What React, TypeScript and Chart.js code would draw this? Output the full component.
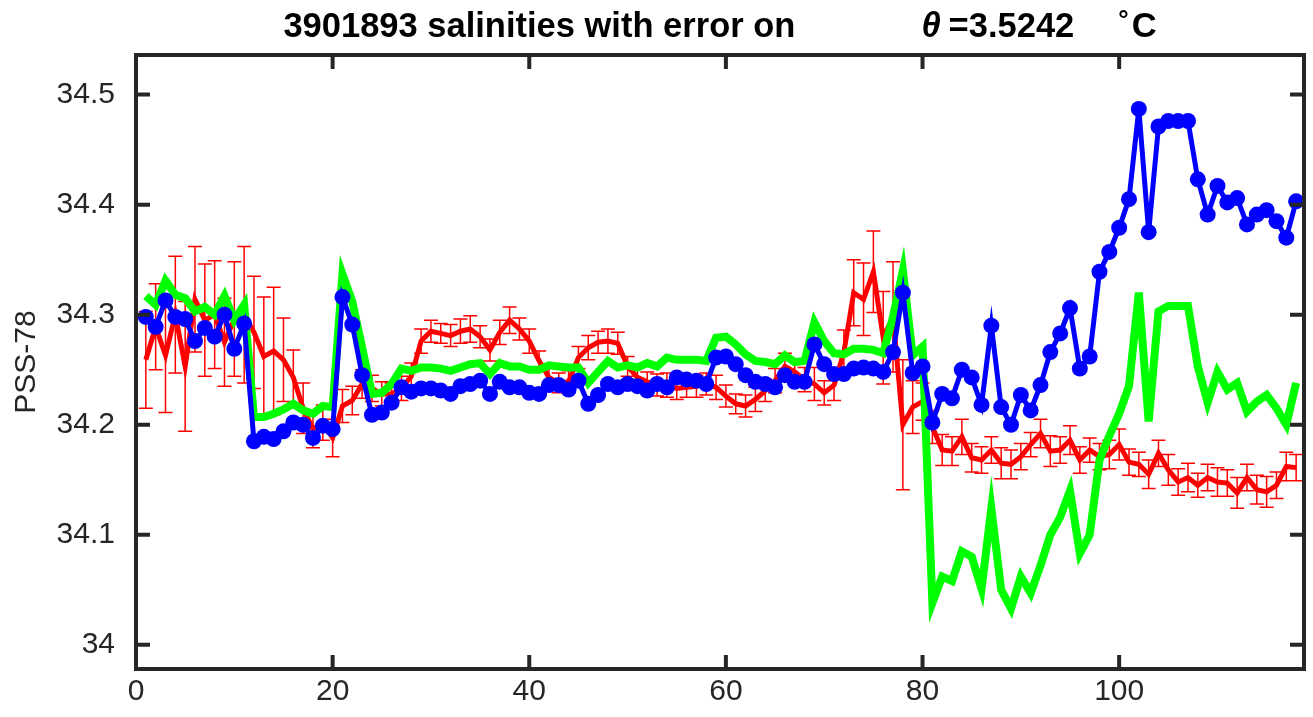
import React, { useEffect, useRef } from 'react';
import { Chart, registerables } from 'chart.js';

Chart.register(...registerables);

// Profile numbers 1..118 (category axis)
const PROFILES: number[] = Array.from({ length: 118 }, (_, i) => i + 1);

const SAL_BLUE = [
  34.298, 34.289, 34.313, 34.298, 34.296, 34.276, 34.288, 34.280, 34.300, 34.269,
  34.292, 34.185, 34.189, 34.187, 34.194, 34.202, 34.200, 34.188, 34.199, 34.196,
  34.316, 34.291, 34.245, 34.209, 34.211, 34.220, 34.234, 34.230, 34.233, 34.233,
  34.231, 34.228, 34.235, 34.237, 34.240, 34.228, 34.239, 34.234, 34.234, 34.229,
  34.228, 34.236, 34.236, 34.232, 34.240, 34.219, 34.227, 34.237, 34.234, 34.237,
  34.235, 34.231, 34.237, 34.234, 34.243, 34.241, 34.240, 34.237, 34.261, 34.262,
  34.255, 34.245, 34.239, 34.237, 34.234, 34.245, 34.239, 34.239, 34.273, 34.255,
  34.246, 34.246, 34.251, 34.252, 34.251, 34.248, 34.266, 34.320, 34.247, 34.253,
  34.202, 34.228, 34.224, 34.250, 34.243, 34.218, 34.290, 34.216, 34.200, 34.227,
  34.213, 34.236, 34.266, 34.283, 34.306, 34.251, 34.262, 34.339, 34.357, 34.379,
  34.405, 34.487, 34.375, 34.471, 34.476, 34.476, 34.476, 34.423, 34.391, 34.417,
  34.402, 34.406, 34.382, 34.391, 34.395, 34.385, 34.370, 34.403,
];

const SAL_GREEN = [
  34.317, 34.309, 34.331, 34.318, 34.315, 34.303, 34.307, 34.300, 34.317, 34.295,
  34.309, 34.207, 34.207, 34.210, 34.214, 34.219, 34.213, 34.210, 34.217, 34.216,
  34.337, 34.312, 34.270, 34.228, 34.229, 34.237, 34.251, 34.249, 34.252, 34.252,
  34.251, 34.249, 34.252, 34.255, 34.256, 34.246, 34.256, 34.253, 34.253, 34.250,
  34.250, 34.254, 34.253, 34.252, 34.252, 34.238, 34.248, 34.258, 34.252, 34.254,
  34.252, 34.256, 34.253, 34.261, 34.259, 34.259, 34.259, 34.258, 34.279, 34.280,
  34.273, 34.264, 34.258, 34.257, 34.255, 34.263, 34.257, 34.258, 34.293, 34.276,
  34.265, 34.264, 34.269, 34.269, 34.268, 34.265, 34.298, 34.340, 34.263, 34.271,
  34.038, 34.062, 34.058, 34.085, 34.080, 34.051, 34.124, 34.050, 34.033, 34.062,
  34.047, 34.072, 34.100, 34.116, 34.140, 34.083, 34.100, 34.168, 34.190, 34.210,
  34.235, 34.320, 34.203, 34.303, 34.308, 34.308, 34.308, 34.253, 34.220, 34.248,
  34.232, 34.238, 34.212, 34.221, 34.227, 34.215, 34.200, 34.238,
];

const SAL_RED = [
  34.259, 34.289, 34.263, 34.300, 34.253, 34.314, 34.295, 34.300, 34.275, 34.296,
  34.300, 34.284, 34.262, 34.267, 34.259, 34.243, 34.215, 34.196, 34.202, 34.188,
  34.217, 34.222, 34.237, 34.233, 34.228, 34.228, 34.233, 34.244, 34.276, 34.285,
  34.283, 34.281, 34.285, 34.287, 34.280, 34.268, 34.284, 34.295, 34.287, 34.276,
  34.258, 34.243, 34.238, 34.239, 34.261, 34.270, 34.275, 34.276, 34.274, 34.253,
  34.243, 34.239, 34.236, 34.236, 34.233, 34.234, 34.235, 34.237, 34.234, 34.226,
  34.219, 34.217, 34.223, 34.231, 34.240, 34.253, 34.248, 34.241, 34.237, 34.229,
  34.236, 34.266, 34.320, 34.314, 34.339, 34.279, 34.298, 34.200, 34.216, 34.221,
  34.198, 34.177, 34.176, 34.189, 34.170, 34.168, 34.177, 34.165, 34.164, 34.171,
  34.182, 34.192, 34.176, 34.177, 34.186, 34.168, 34.177, 34.171, 34.173, 34.182,
  34.166, 34.164, 34.155, 34.174, 34.159, 34.148, 34.152, 34.145, 34.152, 34.148,
  34.147, 34.138, 34.152, 34.141, 34.139, 34.145, 34.162, 34.161,
];

const SAL_RED_ERR = [
  0.044, 0.039, 0.052, 0.053, 0.059, 0.048, 0.051, 0.049, 0.040, 0.052,
  0.062, 0.051, 0.054, 0.058, 0.038, 0.025, 0.023, 0.017, 0.016, 0.017,
  0.015, 0.013, 0.013, 0.012, 0.011, 0.010, 0.011, 0.012, 0.011, 0.010,
  0.009, 0.010, 0.011, 0.012, 0.010, 0.010, 0.011, 0.012, 0.010, 0.011,
  0.009, 0.010, 0.009, 0.010, 0.010, 0.011, 0.010, 0.011, 0.010, 0.009,
  0.010, 0.009, 0.010, 0.011, 0.010, 0.009, 0.010, 0.010, 0.011, 0.010,
  0.009, 0.010, 0.011, 0.010, 0.011, 0.012, 0.010, 0.011, 0.015, 0.011,
  0.014, 0.020, 0.030, 0.033, 0.037, 0.042, 0.050, 0.059, 0.024, 0.017,
  0.015, 0.014, 0.013, 0.016, 0.013, 0.012, 0.012, 0.014, 0.013, 0.012,
  0.011, 0.013, 0.014, 0.012, 0.013, 0.012, 0.011, 0.012, 0.013, 0.014,
  0.012, 0.011, 0.013, 0.012, 0.014, 0.012, 0.013, 0.011, 0.012, 0.013,
  0.012, 0.014, 0.012, 0.013, 0.014, 0.012, 0.013, 0.012,
];

const X_TICKS = [0, 20, 40, 60, 80, 100];
const Y_TICKS = [34, 34.1, 34.2, 34.3, 34.4, 34.5];
const X_MIN = 0;
const X_MAX = 118.8;
const Y_MIN = 33.978;
const Y_MAX = 34.536;

const TITLE_MAIN = '3901893 salinities with error on';
const TITLE_THETA = '\u03b8';
const TITLE_VALUE = '=3.5242';
const TITLE_DEG = '\u00b0';
const TITLE_UNIT = 'C';
const Y_LABEL = 'PSS-78';

const FONT = '"Liberation Sans", Arial, Helvetica, sans-serif';
const AXIS_COLOR = '#262626';

const errorBarPlugin = {
  id: 'errorBars',
  beforeDatasetDraw(chart: any, args: any) {
    const ds = chart.data.datasets[args.index];
    if (ds.label !== 'red') return;
    const { ctx, chartArea } = chart;
    const xs = chart.scales.x;
    const ys = chart.scales.y;
    ctx.save();
    ctx.beginPath();
    ctx.rect(chartArea.left, chartArea.top, chartArea.right - chartArea.left, chartArea.bottom - chartArea.top);
    ctx.clip();
    ctx.strokeStyle = '#ff0000';
    ctx.lineWidth = 1.5;
    ctx.beginPath();
    ds.data.forEach((p: any, i: number) => {
      const e = SAL_RED_ERR[i];
      const px = xs.getPixelForValue(p.x);
      const y1 = ys.getPixelForValue(p.y - e);
      const y2 = ys.getPixelForValue(p.y + e);
      ctx.moveTo(px, y1);
      ctx.lineTo(px, y2);
      ctx.moveTo(px - 7, y1);
      ctx.lineTo(px + 7, y1);
      ctx.moveTo(px - 7, y2);
      ctx.lineTo(px + 7, y2);
    });
    ctx.stroke();
    ctx.restore();
  },
};

const framePlugin = {
  id: 'matlabFrame',
  afterDraw(chart: any) {
    const { ctx, chartArea } = chart;
    const { left, right, top, bottom } = chartArea;
    const xs = chart.scales.x;
    const ys = chart.scales.y;
    ctx.save();
    ctx.strokeStyle = AXIS_COLOR;
    ctx.lineWidth = 4;
    ctx.beginPath();
    ctx.rect(left, top, right - left, bottom - top);
    ctx.stroke();
    const tl = 14;
    ctx.beginPath();
    Y_TICKS.forEach((v) => {
      const py = ys.getPixelForValue(v);
      ctx.moveTo(left, py);
      ctx.lineTo(left + tl, py);
      ctx.moveTo(right, py);
      ctx.lineTo(right - tl, py);
    });
    X_TICKS.forEach((v) => {
      const px = xs.getPixelForValue(v);
      ctx.moveTo(px, bottom);
      ctx.lineTo(px, bottom - tl);
      ctx.moveTo(px, top);
      ctx.lineTo(px, top + tl);
    });
    ctx.stroke();

    // Title
    const size = 34.5;
    const bold = `bold ${size}px ${FONT}`;
    const boldIt = `italic bold ${size}px ${FONT}`;
    const degFont = `bold ${Math.round(size * 0.75)}px ${FONT}`;
    const gap1 = 126;
    const thetaGap = 8;
    const gap2 = 44;
    const degGap = 3;
    ctx.fillStyle = '#000000';
    ctx.textBaseline = 'alphabetic';
    ctx.textAlign = 'left';
    ctx.font = bold;
    const wMain = ctx.measureText(TITLE_MAIN).width;
    const wVal = ctx.measureText(TITLE_VALUE).width;
    const wUnit = ctx.measureText(TITLE_UNIT).width;
    ctx.font = boldIt;
    const wTheta = ctx.measureText(TITLE_THETA).width;
    ctx.font = degFont;
    const wDeg = ctx.measureText(TITLE_DEG).width;
    const total = wMain + gap1 + wTheta + thetaGap + wVal + gap2 + wDeg + degGap + wUnit;
    let x = (left + right) / 2 - total / 2;
    const base = 37;
    ctx.font = bold;
    ctx.fillText(TITLE_MAIN, x, base);
    x += wMain + gap1;
    ctx.font = boldIt;
    ctx.fillText(TITLE_THETA, x, base);
    x += wTheta + thetaGap;
    ctx.font = bold;
    ctx.fillText(TITLE_VALUE, x, base);
    x += wVal + gap2;
    ctx.font = degFont;
    ctx.fillText(TITLE_DEG, x, base - 9);
    x += wDeg + degGap;
    ctx.font = bold;
    ctx.fillText(TITLE_UNIT, x, base);
    ctx.restore();
  },
};

export default function App() {
  const canvasRef = useRef<HTMLCanvasElement | null>(null);

  useEffect(() => {
    const canvas = canvasRef.current;
    if (!canvas) return;
    const mk = (arr: number[]) => PROFILES.map((p, i) => ({ x: p, y: arr[i] }));
    const tickFont = { family: FONT, size: 30 };
    const chart = new Chart(canvas, {
      type: 'line',
      data: {
        datasets: [
          {
            label: 'blue',
            data: mk(SAL_BLUE),
            borderColor: '#0000ff',
            backgroundColor: '#0000ff',
            borderWidth: 5,
            pointRadius: 8,
            pointBorderWidth: 0,
            pointBackgroundColor: '#0000ff',
            tension: 0,
          },
          {
            label: 'green',
            data: mk(SAL_GREEN),
            borderColor: '#00ff00',
            backgroundColor: '#00ff00',
            borderWidth: 8,
            pointRadius: 0,
            tension: 0,
          },
          {
            label: 'red',
            data: mk(SAL_RED),
            borderColor: '#ff0000',
            backgroundColor: '#ff0000',
            borderWidth: 5,
            pointRadius: 0,
            tension: 0,
          },
        ],
      },
      options: {
        animation: false,
        responsive: false,
        devicePixelRatio: 1,
        events: [],
        layout: { padding: { top: 55, right: 9, bottom: 0, left: 0 } },
        plugins: {
          legend: { display: false },
          title: { display: false },
          tooltip: { enabled: false },
        },
        scales: {
          x: {
            type: 'linear',
            min: X_MIN,
            max: X_MAX,
            afterBuildTicks: (s: any) => {
              s.ticks = X_TICKS.map((v) => ({ value: v }));
            },
            afterFit: (s: any) => {
              s.height = 48;
            },
            grid: { display: false, drawTicks: false },
            border: { display: false },
            ticks: {
              font: tickFont,
              color: AXIS_COLOR,
              padding: 5,
              maxRotation: 0,
              autoSkip: false,
              callback: (v: any) => String(v),
            },
          },
          y: {
            type: 'linear',
            min: Y_MIN,
            max: Y_MAX,
            afterBuildTicks: (s: any) => {
              s.ticks = Y_TICKS.map((v) => ({ value: v }));
            },
            afterFit: (s: any) => {
              s.width = 136;
            },
            grid: { display: false, drawTicks: false },
            border: { display: false },
            ticks: {
              font: tickFont,
              color: AXIS_COLOR,
              padding: 21,
              autoSkip: false,
              callback: (v: any) => String(Number(Number(v).toFixed(1))),
            },
            title: {
              display: true,
              text: Y_LABEL,
              color: AXIS_COLOR,
              font: { family: FONT, size: 30 },
              padding: { top: 9, bottom: 0 },
            },
          },
        },
      },
      plugins: [errorBarPlugin, framePlugin],
    } as any);
    return () => chart.destroy();
  }, []);

  return (
    <div style={{ position: 'fixed', left: 0, top: 0, width: 1313, height: 717, background: '#ffffff' }}>
      <canvas ref={canvasRef} width={1313} height={717} style={{ width: 1313, height: 717, display: 'block' }} />
    </div>
  );
}
